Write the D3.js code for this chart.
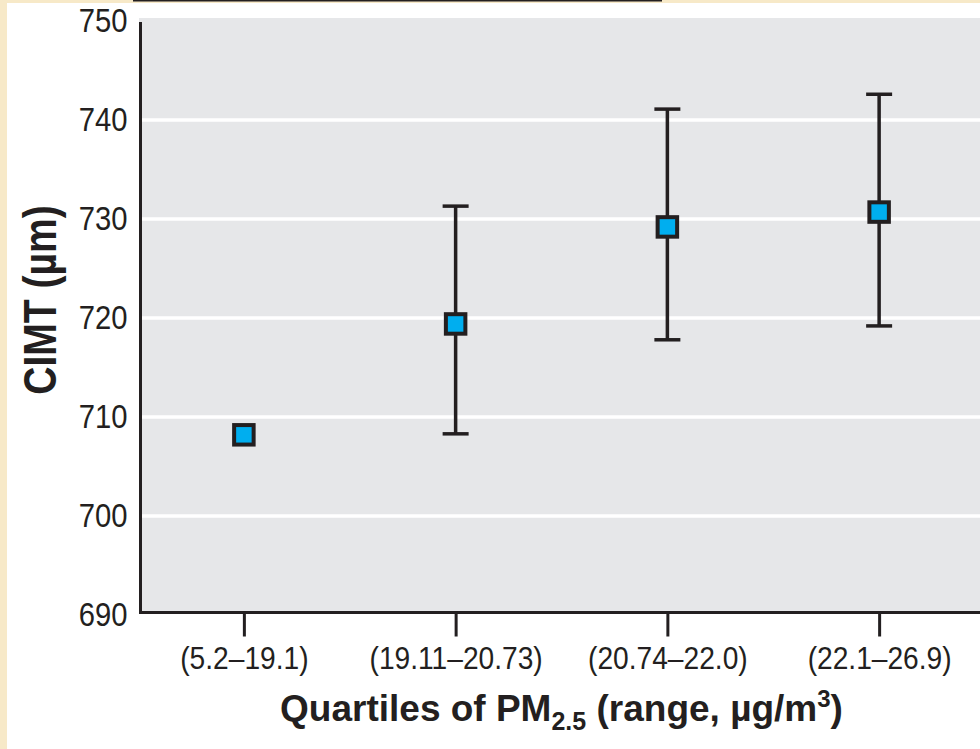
<!DOCTYPE html>
<html>
<head>
<meta charset="utf-8">
<script src="https://cdn.jsdelivr.net/npm/d3@7"></script>
<style>
  body { margin: 0; background: #fff; }
  svg { display: block; }
  text { font-family: "Liberation Sans", Arial, Helvetica, sans-serif; fill: #231f20; }
</style>
</head>
<body>
<div id="wrapper"></div>
<script>

var quartiles = ['(5.2–19.1)', '(19.11–20.73)', '(20.74–22.0)', '(22.1–26.9)'];
var cimt = [708.2, 719.4, 729.2, 730.7];
var ciLow = [null, 708.3, 717.8, 719.2];
var ciHigh = [null, 731.3, 741.1, 742.6];
var yTicks = [690, 700, 710, 720, 730, 740, 750];

var width = 980, height = 749;
var dark = '#231f20', cream = '#f7e9c8';

var data = quartiles.map(function(q, i) {
    return { q: q, v: cimt[i], lo: ciLow[i], hi: ciHigh[i] };
});

var svg = d3.select('#wrapper').append('svg')
    .attr('width', width)
    .attr('height', height);

// page frame
svg.append('rect').attr('x', 0).attr('y', 0).attr('width', width).attr('height', 3).attr('fill', cream);
svg.append('rect').attr('x', 0).attr('y', 0).attr('width', 7).attr('height', height).attr('fill', cream);
svg.append('rect').attr('x', 133).attr('y', 0).attr('width', 529).attr('height', 1.5).attr('fill', dark);

var x = d3.scalePoint()
    .domain(quartiles)
    .range([138, 985])
    .padding(0.5);

var y = d3.scaleLinear()
    .domain([690, 750])
    .range([615, 21]);

var axisY = 612.5, axisX = 140.5;

// plot background
svg.append('rect')
    .attr('x', 139).attr('y', 18)
    .attr('width', width - 139).attr('height', axisY - 18)
    .attr('fill', '#e6e7e9');

// grid
svg.append('g')
    .selectAll('line')
    .data(yTicks.filter(function(d) { return d > 690 && d < 750; }))
    .enter().append('line')
    .attr('x1', axisX).attr('x2', width)
    .attr('y1', function(d) { return y(d); })
    .attr('y2', function(d) { return y(d); })
    .attr('stroke', '#fff')
    .attr('stroke-width', 3.3);

// y axis
var yAxis = d3.axisLeft(y)
    .tickValues(yTicks)
    .tickSize(0)
    .tickPadding(15)
    .tickFormat(d3.format('d'));

var gy = svg.append('g')
    .attr('transform', 'translate(' + axisX + ',0)')
    .call(yAxis);
gy.select('.domain').remove();
gy.selectAll('.tick text')
    .style('font-size', '34px')
    .attr('transform', 'scale(0.86,1)')
    .attr('fill', dark);
svg.append('line')
    .attr('x1', axisX).attr('x2', axisX)
    .attr('y1', 22).attr('y2', axisY + 1.5)
    .attr('stroke', dark).attr('stroke-width', 3);

// x axis
var xAxis = d3.axisBottom(x)
    .tickSizeInner(24)
    .tickSizeOuter(0)
    .tickPadding(10);

var gx = svg.append('g')
    .attr('transform', 'translate(0,' + axisY + ')')
    .call(xAxis);
gx.select('.domain').remove();
gx.selectAll('.tick line').attr('stroke', dark).attr('stroke-width', 3);
gx.selectAll('.tick text')
    .style('font-size', '32px')
    .attr('transform', 'scale(0.88,1)')
    .attr('fill', dark);
svg.append('line')
    .attr('x1', 139).attr('x2', width)
    .attr('y1', axisY).attr('y2', axisY)
    .attr('stroke', dark).attr('stroke-width', 3);

// error bars
var bars = svg.append('g')
    .selectAll('g')
    .data(data.filter(function(d) { return d.lo != null; }))
    .enter().append('g');

bars.append('line')
    .attr('x1', function(d) { return x(d.q); })
    .attr('x2', function(d) { return x(d.q); })
    .attr('y1', function(d) { return y(d.hi); })
    .attr('y2', function(d) { return y(d.lo); })
    .attr('stroke', dark).attr('stroke-width', 3.5);

bars.selectAll('.cap')
    .data(function(d) { return [{ q: d.q, v: d.hi }, { q: d.q, v: d.lo }]; })
    .enter().append('line')
    .attr('class', 'cap')
    .attr('x1', function(d) { return x(d.q) - 13; })
    .attr('x2', function(d) { return x(d.q) + 13; })
    .attr('y1', function(d) { return y(d.v); })
    .attr('y2', function(d) { return y(d.v); })
    .attr('stroke', dark).attr('stroke-width', 3.5);

// points
var s = 19.5;
svg.append('g')
    .selectAll('rect')
    .data(data)
    .enter().append('rect')
    .attr('x', function(d) { return x(d.q) - s / 2; })
    .attr('y', function(d) { return y(d.v) - s / 2; })
    .attr('width', s).attr('height', s)
    .attr('fill', '#00aeef')
    .attr('stroke', dark)
    .attr('stroke-width', 4);

// axis titles
var xt = svg.append('text')
    .attr('x', (138 + 985) / 2)
    .attr('y', 721)
    .attr('text-anchor', 'middle')
    .style('font-size', '37px')
    .style('font-weight', 'bold');
xt.append('tspan').text('Quartiles of PM');
xt.append('tspan').attr('dy', 9).style('font-size', '25px').text('2.5');
xt.append('tspan').attr('dy', -9).text(' (range, µg/m');
xt.append('tspan').attr('dy', -14).style('font-size', '24px').text('3');
xt.append('tspan').attr('dy', 14).text(')');

svg.append('text')
    .attr('transform', 'translate(56,300) rotate(-90) scale(0.85,1)')
    .attr('text-anchor', 'middle')
    .style('font-size', '46px')
    .style('font-weight', 'bold')
    .text('CIMT (µm)');

</script>
</body>
</html>
